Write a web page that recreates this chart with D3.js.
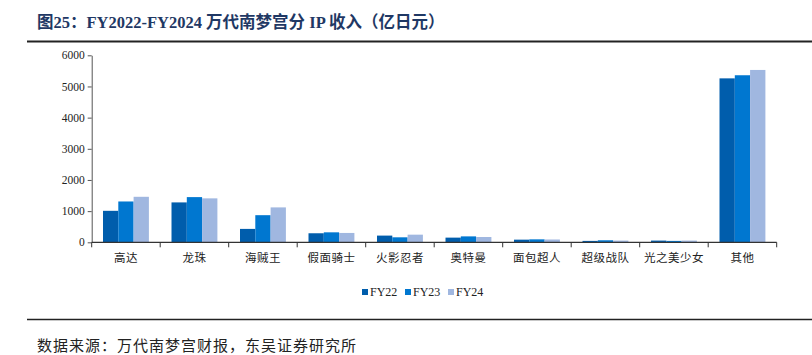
<!DOCTYPE html>
<html><head><meta charset="utf-8">
<script src="https://cdn.jsdelivr.net/npm/d3@7"></script>
<style>
body{margin:0;background:#fff;}
svg{display:block;}
</style></head>
<body><svg id="c" width="812" height="355"></svg>
<script>
const categories = ["高达","龙珠","海贼王","假面骑士","火影忍者","奥特曼","面包超人","超级战队","光之美少女","其他"];
const seriesNames = ["FY22","FY23","FY24"];
const fy22 = [1010,1280,430,290,215,150,85,45,55,5260];
const fy23 = [1310,1450,870,320,160,190,95,65,45,5360];
const fy24 = [1460,1410,1120,300,245,170,90,55,55,5530];
const yTicks = [0,1000,2000,3000,4000,5000,6000];
const colors = ["#005DAC","#0077D0","#A0B7E0"];
const titleText = "图25：FY2022-FY2024  万代南梦宫分 IP 收入（亿日元）";
const sourceText = "数据来源：万代南梦宫财报，东吴证券研究所";

const series = [fy22, fy23, fy24];
const svg = d3.select("#c");
const serif = "'Liberation Serif','Noto Sans CJK SC',serif";
const cjk = "'Noto Sans CJK SC','Liberation Serif',sans-serif";

// title
svg.append("text").attr("x",37).attr("y",28)
  .attr("font-family",serif).attr("font-weight","bold").attr("font-size",16.5)
  .attr("fill","#1F3864").text(titleText);
svg.append("line").attr("x1",27).attr("x2",812).attr("y1",41.5).attr("y2",41.5)
  .attr("stroke","#222").attr("stroke-width",2);

const x0 = d3.scaleBand().domain(categories).range([91.7,776.7]).paddingInner(0.33).paddingOuter(0.165);
const x1 = d3.scaleBand().domain(seriesNames).range([0,x0.bandwidth()]);
const y = d3.scaleLinear().domain([0,6000]).range([242.3,55.3]);

const g = svg.append("g");
series.forEach((s,si)=>{
  g.selectAll(null).data(categories).enter().append("rect")
    .attr("x",d=>x0(d)+x1(seriesNames[si]))
    .attr("y",(d,i)=>y(s[i]))
    .attr("width",x1.bandwidth())
    .attr("height",(d,i)=>y(0)-y(s[i]))
    .attr("fill",colors[si]);
});

// y axis
const yAxis = d3.axisLeft(y).tickValues(yTicks).tickSize(4).tickSizeOuter(0).tickFormat(d3.format("d"));
const ya = svg.append("g").attr("transform","translate(91.7,0)").call(yAxis);
ya.select(".domain").attr("stroke","#555");
ya.selectAll(".tick line").attr("stroke","#555");
ya.selectAll(".tick text").attr("font-family",serif).attr("font-size",11.5).attr("fill","#222").attr("x",-7);

// x axis with ticks at band boundaries
const xa = svg.append("g").attr("transform",`translate(0,${y(0)})`);
xa.append("line").attr("x1",91.7).attr("x2",776.7).attr("stroke","#333").attr("stroke-width",1.2);
const bounds = d3.range(categories.length+1).map(i=>91.7+i*(776.7-91.7)/categories.length);
xa.selectAll(null).data(bounds).enter().append("line")
  .attr("x1",d=>d).attr("x2",d=>d).attr("y1",0).attr("y2",5).attr("stroke","#333");
xa.selectAll(null).data(categories).enter().append("text")
  .attr("x",d=>x0(d)+x0.bandwidth()/2).attr("y",20)
  .attr("text-anchor","middle").attr("font-family",cjk).attr("font-size",11.5).attr("fill","#222")
  .attr("letter-spacing",0.5)
  .text(d=>d);

// legend
const leg = svg.append("g").attr("transform","translate(362,296)");
let lx = 0;
seriesNames.forEach((n,i)=>{
  leg.append("rect").attr("x",lx).attr("y",-7).attr("width",6).attr("height",6).attr("fill",colors[i]);
  leg.append("text").attr("x",lx+8).attr("y",0).attr("font-family",serif).attr("font-size",12).attr("fill","#222").text(n);
  lx += 43;
});

// footer
svg.append("line").attr("x1",27).attr("x2",812).attr("y1",319.5).attr("y2",319.5)
  .attr("stroke","#222").attr("stroke-width",1.5);
svg.append("text").attr("x",37).attr("y",351)
  .attr("font-family",cjk).attr("font-size",15).attr("letter-spacing",1).attr("fill","#222").text(sourceText);
</script></body></html>
